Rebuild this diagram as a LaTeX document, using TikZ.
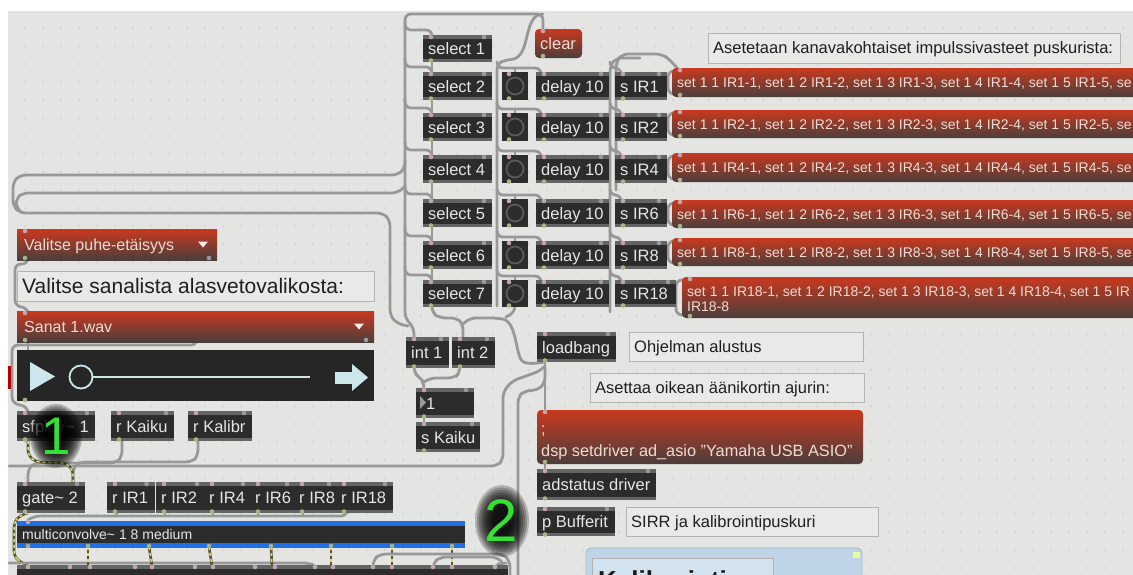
\documentclass[tikz,border=0pt]{standalone}
\usepackage{fontspec}
\setmainfont{Liberation Sans}
\usetikzlibrary{calc}
\definecolor{bgC}{HTML}{E4E4E2}
\definecolor{gridC}{HTML}{C9C9C7}
\definecolor{objC}{HTML}{2C2C2C}
\definecolor{stripC}{HTML}{646464}
\definecolor{objtxtC}{HTML}{E6E6E6}
\definecolor{msgtopC}{HTML}{C9391F}
\definecolor{msgbotC}{HTML}{4A3E3C}
\definecolor{msgtxtC}{HTML}{EEDCD4}
\definecolor{cmtbgC}{HTML}{E9E9E7}
\definecolor{cmtbdC}{HTML}{B4B4B2}
\definecolor{cordC}{HTML}{989898}
\definecolor{sigAC}{HTML}{55552E}
\definecolor{sigBC}{HTML}{D7DA80}
\definecolor{inC}{HTML}{C6A4AE}
\definecolor{outC}{HTML}{A8B282}
\definecolor{nubC}{HTML}{9A9A9A}
\definecolor{iconC}{HTML}{CDE6EC}
\definecolor{plbgC}{HTML}{262626}
\definecolor{blueC}{HTML}{1F6FE6}
\definecolor{greenC}{HTML}{33E033}
\definecolor{panelC}{HTML}{BFD5E7}
\definecolor{btnC}{HTML}{5A5A5A}
\tikzset{
 objbg/.style={fill=objC, inner sep=0pt, outer sep=0pt, draw=none},
 objtxt/.style={text=objtxtC, font=\fontsize{16.5}{18}\selectfont, inner sep=0pt},
 msgbg/.style={top color=msgtopC, bottom color=msgbotC, rounded corners=4pt, inner sep=0pt, outer sep=0pt, draw=none},
 menubg/.style={top color=msgtopC, bottom color=msgbotC, inner sep=0pt, outer sep=0pt, draw=none},
 msgtxt/.style={text=msgtxtC, inner sep=0pt},
 cmtbox/.style={fill=cmtbgC, draw=cmtbdC, line width=1pt, inner sep=0pt, outer sep=0pt},
 cmttxt/.style={text=black!88, inner sep=0pt},
 cord/.style={draw=cordC, line width=2.8pt, rounded corners=6pt, line cap=round},
 sig/.style={draw=sigAC, line width=2.6pt, rounded corners=5pt, postaction={draw=sigBC, line width=1.5pt, dash pattern=on 3pt off 3pt}},
 bignum/.style={text=greenC, inner sep=0pt},
}
% name x1 y1 x2 y2 text
\newcommand\mxobj[6]{%
 \node[objbg, anchor=north west, minimum width={(#4-(#2))*1pt}, minimum height={(#5-(#3))*1pt}] (#1) at (#2,#3) {};
 \fill[stripC] (#2,#3) rectangle (#4,{#3+3.5});
 \fill[stripC] (#2,{#5-3}) rectangle (#4,#5);
 \node[objtxt, anchor=base west] (#1-t) at ({#2+5},{(#3+#5)/2+6}) {#6};
 \fill[inC] ({#2+8},{#3+2}) circle (2.3);
 \fill[nubC] ({#4-8},{#3+2}) circle (2.3);
 \fill[outC] ({#2+8},{#5-1.5}) circle (2.3);
}
% name x1 y1 x2 y2 size text
\newcommand\mxmsg[7]{%
 \node[msgbg, anchor=north west, minimum width={(#4-(#2))*1pt}, minimum height={(#5-(#3))*1pt}] (#1) at (#2,#3) {};
 \node[msgtxt, font=\fontsize{#6}{#6}\selectfont, anchor=base west] (#1-t) at ({#2+5},{(#3+#5)/2+0.36*#6}) {#7};
 \fill[inC] ({#2+8},{#3+2}) circle (2.3);
 \fill[outC] ({#2+8},{#5-2}) circle (2.3);
}
\newcommand\mxcmt[7]{%
 \node[cmtbox, anchor=north west, minimum width={(#4-(#2))*1pt}, minimum height={(#5-(#3))*1pt}] (#1) at (#2,#3) {};
 \node[cmttxt, font=\fontsize{#6}{#6}\selectfont, anchor=base west] (#1-t) at ({#2+5},{(#3+#5)/2+0.36*#6}) {#7};
}
% name x1 y1 x2 y2 text trianglex
\newcommand\mxmenu[7]{%
 \node[menubg, anchor=north west, minimum width={(#4-(#2))*1pt}, minimum height={(#5-(#3))*1pt}] (#1) at (#2,#3) {};
 \node[msgtxt, font=\fontsize{16}{16}\selectfont, anchor=base west] (#1-t) at ({#2+7},{(#3+#5)/2+5.8}) {#6};
 \fill[white!92!red] (#7,{(#3+#5)/2-3}) -- ({#7+10},{(#3+#5)/2-3}) -- ({#7+5},{(#3+#5)/2+3}) -- cycle;
 \fill[inC] ({#2+8},{#3+2}) circle (2.3);
 \fill[outC] ({#2+8},{#5-2}) circle (2.3);
 \fill[nubC] ({#4-8},{#5-2}) circle (2.3);
}
\begin{document}
\begin{tikzpicture}[x=1pt,y=-1pt]
\useasboundingbox (0,0) rectangle (1133,574);
\clip (0,0) rectangle (1133,574);
\fill[white] (0,0) rectangle (1133,574);
\fill[bgC] (8,11) rectangle (1140,580);
\foreach \gx in {25,43,...,1133} \foreach \gy in {28,46,...,574} \fill[gridC] (\gx,\gy) circle (0.9);

% ---------------- cords ----------------
\draw[cord] (543,29) -- (543,14) -- (405,14) -- (405,318) -- (414,328) -- (414,337);
\draw[cord] (405,160) -- (405,168) -- (398,175) -- (20,175) -- (13,182) -- (13,206) -- (20,213) -- (383,213) -- (390,220) -- (390,316) -- (398,324) -- (408,326);
\draw[cord] (405,186) -- (398,193) -- (22,193) -- (16,199) -- (16,207) -- (22,213);
\draw[cord] (543,14) .. controls (522,14) and (532,58) .. (505,60) -- (497,64) -- (497,300) -- (497,306);
\draw[cord] (610,312) -- (610,66) -- (616,58) -- (640,58);
\draw[cord] (616,190) -- (616,62) -- (622,54) -- (662,54) -- (670,60) -- (678,69);
\foreach \rt/\pb in {35/0,72/62,113/100,155/141,199/183,241/227,280/269}{
  \draw[cord] (405,{\rt-14}) -- (405,{\rt-5}) -- (432,{\rt-5}) -- (432,\rt);
  \ifnum\pb>0 \draw[cord] (432,\pb) -- (432,\rt); \fi
}
\foreach \rt/\mt/\mb in {72/68/97,113/110/138,155/153/182,199/200/228,241/238/266}{
  \draw[cord] (497,{\rt-10}) -- (497,{\rt-4}) -- (541,{\rt-4}) -- (541,\rt);
  \draw[cord] (515,{\rt-4}) -- (515,\rt);
  \draw[cord] (610,{\rt-10}) -- (610,{\rt-4}) -- (621,{\rt-4}) -- (621,\rt);
  \draw[cord] (680,{\mt+3}) -- (668,{\mt+3}) -- (668,{\mb-3}) -- (680,{\mb-3});
}
\draw[cord] (497,270) -- (497,276) -- (541,276) -- (541,280);
\draw[cord] (515,276) -- (515,280);
\draw[cord] (610,270) -- (610,276) -- (621,276) -- (621,280);
\draw[cord] (690,280) -- (676,280) -- (676,315) -- (690,315);
\draw[cord] (432,307) -- (432,313) -- (440,318) -- (457,318) -- (463,324) -- (463,337);
\draw[cord] (545,362) -- (530,364) .. controls (515,360) and (518,322) .. (497,318) -- (470,318) -- (463,324);
\draw[cord] (515,307) -- (515,312) -- (506,317);
\draw[cord] (414,368) -- (414,373) -- (420,378) -- (424,382) -- (424,388);
\draw[cord] (460,368) -- (460,373) -- (454,378) -- (430,378) -- (424,382);
\draw[cord] (424,418) -- (424,422);
\draw[cord] (545,362) -- (545,410);
\draw[cord] (545,366) -- (545,383) -- (538,390) -- (524,391) -- (518,397) -- (518,580);
\draw[cord] (545,366) -- (540,371) -- (512,381) -- (503,392) -- (503,460) -- (497,466) -- (9,466);
\draw[cord] (545,464) -- (545,469);
\draw[cord] (28,260) -- (28,264) -- (15,264) -- (15,306) -- (28,308) -- (28,311);
\draw[cord] (28,342) -- (28,350);
\draw[cord] (197,342) -- (197,345) -- (12,345) -- (12,403) -- (28,407) -- (28,411);
\draw[cord] (122,441) -- (122,457) -- (116,463) -- (34,463) -- (28,469) -- (28,482);
\draw[cord] (198,441) -- (198,456) -- (192,462) -- (79,462) -- (73,468) -- (73,482);
\draw[sig] (28,441) -- (28,455) -- (36,462) -- (66,463) -- (73,470) -- (73,482);
\draw[cord] (28,520) -- (34,516) -- (347,516) -- (347,513);
\foreach \ox in {117,165,213,258,303}{ \draw[cord] (\ox,513) -- (\ox,516); }
\draw[sig] (28,513) -- (19,516) -- (14,523) -- (14,556) -- (20,562) -- (28,565);
\draw[cord] (9,563) -- (310,563) -- (316,567) -- (316,574);
\foreach \ax/\bx in {88/88,149/152,209/212,271/272,331/331,392/392,452/452}{ \draw[sig] (\ax,547) -- (\bx,566); }
\draw[cord] (373,580) -- (373,560) -- (380,554) -- (503,554) -- (510,561) -- (510,580);
\draw[cord] (433,580) -- (433,563) -- (440,557) -- (497,557) -- (504,564) -- (504,580);
\draw[cord] (495,580) -- (495,567) -- (500,563) -- (506,563);

% ---------------- boxes ----------------
\mxmenu{puhe}{17}{229}{217}{260}{Valitse puhe-etäisyys}{198}
\mxcmt{sana}{17}{271}{374}{301}{21}{Valitse sanalista alasvetovalikosta:}
\mxmenu{sanat}{17}{311}{374}{342}{Sanat 1.wav}{354}
\node[fill=plbgC, inner sep=0pt, outer sep=0pt, anchor=north west, minimum width=357pt, minimum height=51pt] (play) at (17,350) {};
\fill[iconC] (30,362) -- (55,376.5) -- (30,391) -- cycle;
\draw[iconC, line width=1.8pt] (81,377) circle (11.5);
\draw[iconC, line width=1.5pt] (93,377) -- (310,377);
\fill[iconC] (335,371.5) rectangle (354,383.5);
\fill[iconC] (352,364) -- (368,377.5) -- (352,391) -- cycle;
\fill[outC] (25,400) circle (2.3);
\fill[red!70!black] (8,366) rectangle (11,389);
\mxobj{sfp}{17}{411}{95}{441}{sfplay\textasciitilde{} 1}
\mxobj{rkaiku}{111}{411}{174}{441}{r Kaiku}
\mxobj{rkal}{188}{411}{252}{441}{r Kalibr}
\mxobj{gate}{17}{482}{85}{513}{gate\textasciitilde{} 2}
\mxobj{rir1}{107}{482}{154.5}{513}{r IR1}
\mxobj{rir2}{156}{482}{205}{513}{r IR2}
\mxobj{rir4}{204}{482}{251}{513}{r IR4}
\mxobj{rir6}{250}{482}{295}{513}{r IR6}
\mxobj{rir8}{294}{482}{337}{513}{r IR8}
\mxobj{rir18}{336}{482}{393}{513}{r IR18}
\node[fill=blueC, inner sep=0pt, outer sep=0pt, anchor=north west, minimum width=448pt, minimum height=27pt] (mc) at (17,521) {};
\fill[objC] (17,526) rectangle (465,543);
\node[objtxt, font=\fontsize{14}{14}\selectfont, anchor=base west] (mc-t) at (22,539) {multiconvolve\textasciitilde{} 1 8 medium};
\fill[inC] (28,522) circle (2.3);
\foreach \ox in {28,88,149,209,271,331,392,452}{ \fill[outC] (\ox,546) circle (2.3); }
\node[objbg, anchor=north west, minimum width=491pt, minimum height=15pt] (bot) at (17,565) {};
\fill[stripC] (17,565) rectangle (508,569);
\foreach \ox in {28,70,90,135,152,195,213,255,275,315,333,373,392,433,452,495}{ \fill[inC] (\ox,567) circle (2.3); }

\mxobj{sel1}{423}{35}{492}{62}{select 1}
\mxmsg{clr}{535}{29}{582}{58}{16.5}{clear}
\foreach \i/\rt/\rb/\sx/\ir in {2/72/100/667/1,3/113/141/667/2,4/155/183/667/4,5/199/227/667/6,6/241/269/667/8,7/280/307/676/18}{
  \mxobj{sel\i}{423}{\rt}{492}{\rb}{select \i}
  \node[objbg, anchor=north west, minimum width=26pt, minimum height={(\rb-\rt)*1pt}] (btn\i) at (502,\rt) {};
  \draw[btnC, line width=1.8pt] (515,{(\rt+\rb)/2}) circle (8.5);
  \fill[inC] (509,{\rt+2}) circle (2.3);
  \fill[outC] (509,{\rb-1.5}) circle (2.3);
  \mxobj{del\i}{536}{\rt}{609}{\rb}{delay 10}
  \mxobj{sir\i}{615}{\rt}{\sx}{\rb}{s IR\ir}
}
\foreach \ir/\mt/\mb in {1/68/97,2/110/138,4/153/182,6/200/228,8/238/266}{
  \mxmsg{set\ir}{672}{\mt}{1145}{\mb}{14}{set 1 1 IR\ir-1, set 1 2 IR\ir-2, set 1 3 IR\ir-3, set 1 4 IR\ir-4, set 1 5 IR\ir-5, se}
}
\node[msgbg, anchor=north west, minimum width=470pt, minimum height=41pt] (set18) at (682,277) {};
\node[msgtxt, font=\fontsize{14}{15}\selectfont, anchor=base west] (set18-a) at (687,296) {set 1 1 IR18-1, set 1 2 IR18-2, set 1 3 IR18-3, set 1 4 IR18-4, set 1 5 IR};
\node[msgtxt, font=\fontsize{14}{15}\selectfont, anchor=base west] (set18-b) at (687,311) {IR18-8};
\fill[inC] (690,279) circle (2.3);
\fill[outC] (690,316) circle (2.3);
\mxcmt{aset}{708}{33}{1120}{63}{16.5}{Asetetaan kanavakohtaiset impulssivasteet puskurista:}

\mxobj{int1}{406}{337}{449}{368}{int 1}
\mxobj{int2}{452}{337}{495}{368}{int 2}
\mxobj{numb}{416}{388}{474}{418}{}
\fill[gray!80] (420,396) -- (426,402.5) -- (420,409) -- cycle;
\node[objtxt, anchor=base west] (numb-v) at (426,409) {1};
\mxobj{skaiku}{416}{422}{480}{452}{s Kaiku}

\mxobj{lb}{537}{332}{616}{362}{loadbang}
\mxcmt{ohj}{629}{332}{863}{361}{16.5}{Ohjelman alustus}
\mxcmt{ajuri}{590}{373}{864}{402}{16.5}{Asettaa oikean äänikortin ajurin:}
\node[msgbg, anchor=north west, minimum width=326pt, minimum height=54pt] (dsp) at (537,410) {};
\node[msgtxt, font=\fontsize{16.3}{16.3}\selectfont, anchor=base west] (dsp-a) at (541,434) {;};
\node[msgtxt, font=\fontsize{16.3}{16.3}\selectfont, anchor=base west] (dsp-b) at (541,456) {dsp setdriver ad\_asio "Yamaha USB ASIO"};
\fill[inC] (545,412) circle (2.3);
\fill[outC] (545,462) circle (2.3);
\mxobj{adst}{537}{469}{656}{500}{adstatus driver}
\mxobj{pbuf}{537}{507}{615}{536}{p Bufferit}
\mxcmt{sirr}{626}{507}{878}{536}{16.5}{SIRR ja kalibrointipuskuri}
\node[fill=panelC, draw=panelC!85!black, line width=0.8pt, rounded corners=5pt, inner sep=0pt, outer sep=0pt, anchor=north west, minimum width=276pt, minimum height=45pt] (panel) at (586,548) {};
\fill[green!20!yellow!40!white] (853,552) rectangle (860,558);
\node[fill=panelC!70!white, draw=gray!60, line width=0.8pt, inner sep=0pt, outer sep=0pt, anchor=north west, minimum width=181pt, minimum height=40pt] (kalbox) at (592,558) {};
\node[text=black!90, font=\bfseries\fontsize{26}{26}\selectfont, inner sep=0pt, anchor=base west] (kal) at (598,589) {Kalibrointi};

% big numbers with glow
\foreach \k in {1,...,10}{ \fill[black, opacity=0.24] (56,436) ellipse ({6+2.0*\k} and {10+2.2*\k}); }
\node[bignum, font=\fontsize{53}{53}\selectfont] (num1) at (56,436) {1};
\foreach \k in {1,...,10}{ \fill[black, opacity=0.22] (502,521) ellipse ({7+2.0*\k} and {12+2.4*\k}); }
\node[bignum, font=\fontsize{60}{60}\selectfont] (num2) at (501,521) {2};
\end{tikzpicture}
\end{document}
